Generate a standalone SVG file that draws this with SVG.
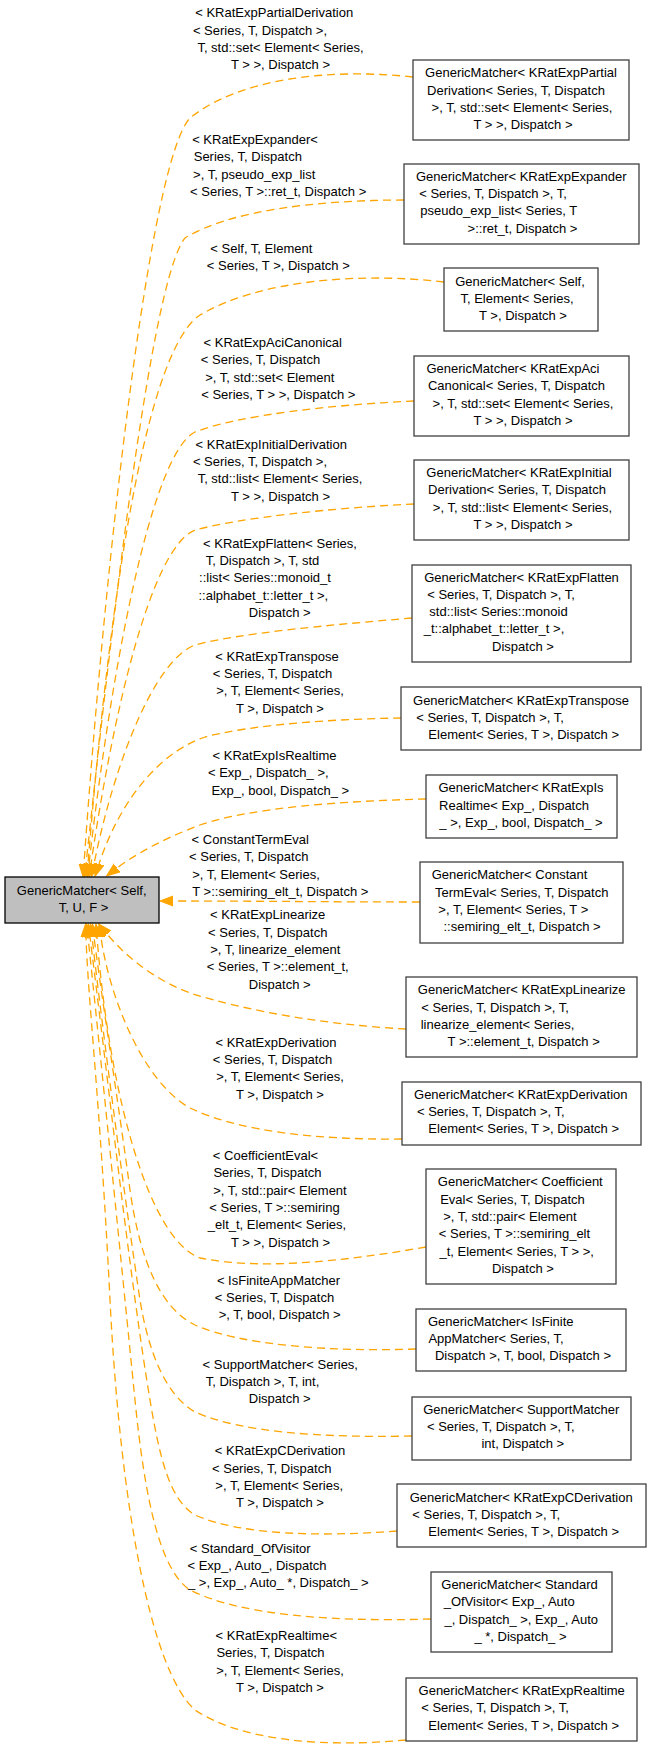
<svg xmlns="http://www.w3.org/2000/svg" width="651" height="1751" viewBox="0 0 651 1751">
<style>
text{font-family:"Liberation Sans",Arial,sans-serif;font-size:13px;text-anchor:middle;fill:#000}
.node rect{fill:#fff;stroke:#404040;stroke-width:1.3}
#main rect{fill:#bfbfbf;stroke:#000}
.edge path{fill:none;stroke:#ffa500;stroke-width:1.3;stroke-dasharray:8,5;marker-end:url(#arr)}
</style>
<defs>
<marker id="arr" viewBox="0 -6 14 12" refX="0" refY="0" markerWidth="14" markerHeight="12" markerUnits="userSpaceOnUse" orient="auto"><path d="M0,-5 L13,0 L0,5 Z" fill="#ffa500" stroke="#ffa500" stroke-width="1" stroke-dasharray="none"/></marker>
</defs>
<rect width="651" height="1751" fill="#fff"/>
<g id="connectors">
<g class="edge" id="e1"><path d="M413,77 C330,68 240,78 190,118 C150,160 105,560 84,864"/>
<text x="274.2" y="17.3">&lt; KRatExpPartialDerivation</text><text x="260" y="34.6">&lt; Series, T, Dispatch &gt;,</text><text x="280.5" y="51.9">T, std::set&lt; Element&lt; Series,</text><text x="280.5" y="69.2">T &gt; &gt;, Dispatch &gt;</text></g>
<g class="edge" id="e2"><path d="M404,200 C320,200 230,210 185,238 C150,280 108,660 86,864"/>
<text x="255" y="144">&lt; KRatExpExpander&lt;</text><text x="247.8" y="161.3">Series, T, Dispatch</text><text x="254.2" y="178.6">&gt;, T, pseudo_exp_list</text><text x="278.2" y="195.9">&lt; Series, T &gt;::ret_t, Dispatch &gt;</text></g>
<g class="edge" id="e3"><path d="M444,282 C360,272 260,280 200,315 C140,355 105,650 88,864"/>
<text x="261.3" y="252.7">&lt; Self, T, Element</text><text x="278.3" y="270">&lt; Series, T &gt;, Dispatch &gt;</text></g>
<g class="edge" id="e4"><path d="M414,401 C330,405 240,415 195,432 C150,455 110,680 89,864"/>
<text x="272.8" y="347">&lt; KRatExpAciCanonical</text><text x="260.5" y="364.3">&lt; Series, T, Dispatch</text><text x="269.8" y="381.6">&gt;, T, std::set&lt; Element</text><text x="278.3" y="398.9">&lt; Series, T &gt; &gt;, Dispatch &gt;</text></g>
<g class="edge" id="e5"><path d="M414,504 C330,508 240,518 195,530 C150,548 112,720 91,864"/>
<text x="271.3" y="448.7">&lt; KRatExpInitialDerivation</text><text x="260" y="466">&lt; Series, T, Dispatch &gt;,</text><text x="280" y="483.3">T, std::list&lt; Element&lt; Series,</text><text x="280.5" y="500.6">T &gt; &gt;, Dispatch &gt;</text></g>
<g class="edge" id="e6"><path d="M412,618 C330,625 240,633 195,645 C155,660 115,760 94,864"/>
<text x="280" y="547.7">&lt; KRatExpFlatten&lt; Series,</text><text x="262.5" y="565">T, Dispatch &gt;, T, std</text><text x="265" y="582.3">::list&lt; Series::monoid_t</text><text x="263.3" y="599.6">::alphabet_t::letter_t &gt;,</text><text x="279.7" y="616.9">Dispatch &gt;</text></g>
<g class="edge" id="e7"><path d="M401,718 C330,719 250,725 205,737 C160,752 120,800 99,864"/>
<text x="277" y="660.7">&lt; KRatExpTranspose</text><text x="272.5" y="678">&lt; Series, T, Dispatch</text><text x="280" y="695.3">&gt;, T, Element&lt; Series,</text><text x="280" y="712.6">T &gt;, Dispatch &gt;</text></g>
<g class="edge" id="e8"><path d="M426,799 C340,801 250,808 200,825 C160,840 133,856 117,868"/>
<text x="274.5" y="760">&lt; KRatExpIsRealtime</text><text x="268.3" y="777.3">&lt; Exp_, Dispatch_ &gt;,</text><text x="280.3" y="794.6">Exp_, bool, Dispatch_ &gt;</text></g>
<g class="edge" id="e9"><path d="M420,902 C330,902 260,901 173,901"/>
<text x="250.3" y="844">&lt; ConstantTermEval</text><text x="248.7" y="861.3">&lt; Series, T, Dispatch</text><text x="256" y="878.6">&gt;, T, Element&lt; Series,</text><text x="280.3" y="895.9">T &gt;::semiring_elt_t, Dispatch &gt;</text></g>
<g class="edge" id="e10"><path d="M406,1029 C330,1025 250,1012 190,993 C150,978 122,952 107,934"/>
<text x="267.7" y="919.3">&lt; KRatExpLinearize</text><text x="267.7" y="936.6">&lt; Series, T, Dispatch</text><text x="275.3" y="953.9">&gt;, T, linearize_element</text><text x="277.8" y="971.2">&lt; Series, T &gt;::element_t,</text><text x="279.7" y="988.5">Dispatch &gt;</text></g>
<g class="edge" id="e11"><path d="M402,1139 C320,1140 240,1132 190,1108 C140,1080 108,990 101,937"/>
<text x="276" y="1046.7">&lt; KRatExpDerivation</text><text x="272.5" y="1064">&lt; Series, T, Dispatch</text><text x="280" y="1081.3">&gt;, T, Element&lt; Series,</text><text x="280" y="1098.6">T &gt;, Dispatch &gt;</text></g>
<g class="edge" id="e12"><path d="M426,1247 C340,1262 260,1270 200,1258 C150,1240 110,1100 97,937"/>
<text x="265.5" y="1160">&lt; CoefficientEval&lt;</text><text x="267.5" y="1177.3">Series, T, Dispatch</text><text x="280" y="1194.6">&gt;, T, std::pair&lt; Element</text><text x="274.5" y="1211.9">&lt; Series, T &gt;::semiring</text><text x="277" y="1229.2">_elt_t, Element&lt; Series,</text><text x="280.5" y="1246.5">T &gt; &gt;, Dispatch &gt;</text></g>
<g class="edge" id="e13"><path d="M416,1349 C330,1352 240,1345 195,1325 C160,1308 140,1260 130,1190 C118,1100 102,1000 94,937"/>
<text x="278.5" y="1284.7">&lt; IsFiniteAppMatcher</text><text x="274.5" y="1302">&lt; Series, T, Dispatch</text><text x="279.7" y="1319.3">&gt;, T, bool, Dispatch &gt;</text></g>
<g class="edge" id="e14"><path d="M412,1436 C320,1438 240,1432 195,1412 C165,1395 148,1350 140,1300 C125,1200 105,1050 92,937"/>
<text x="280.3" y="1368.7">&lt; SupportMatcher&lt; Series,</text><text x="262.5" y="1386">T, Dispatch &gt;, T, int,</text><text x="279.7" y="1403.3">Dispatch &gt;</text></g>
<g class="edge" id="e15"><path d="M397,1531 C320,1537 240,1535 195,1515 C170,1500 160,1460 150,1400 C130,1280 108,1080 90,937"/>
<text x="280" y="1455.3">&lt; KRatExpCDerivation</text><text x="271.7" y="1472.6">&lt; Series, T, Dispatch</text><text x="279.2" y="1489.9">&gt;, T, Element&lt; Series,</text><text x="280" y="1507.2">T &gt;, Dispatch &gt;</text></g>
<g class="edge" id="e16"><path d="M431,1619 C330,1622 240,1615 190,1590 C160,1570 145,1500 135,1400 C120,1250 100,1050 88,937"/>
<text x="250.2" y="1552.7">&lt; Standard_OfVisitor</text><text x="257" y="1570">&lt; Exp_, Auto_, Dispatch</text><text x="278.3" y="1587.3">_ &gt;, Exp_, Auto_ *, Dispatch_ &gt;</text></g>
<g class="edge" id="e17"><path d="M406,1740 C320,1748 240,1740 195,1710 C150,1670 120,1500 110,1300 C100,1100 88,1000 86,937"/>
<text x="276.3" y="1640">&lt; KRatExpRealtime&lt;</text><text x="270.5" y="1657.3">Series, T, Dispatch</text><text x="280" y="1674.6">&gt;, T, Element&lt; Series,</text><text x="280" y="1691.9">T &gt;, Dispatch &gt;</text></g>
</g>
<g class="node" id="main"><rect x="5" y="877" width="154" height="46"/><text x="81.7" y="895">GenericMatcher&lt; Self,</text><text x="83.6" y="912.3">T, U, F &gt;</text></g>
<g class="node" id="n1"><rect x="413" y="60" width="216" height="80"/><text x="521" y="77.3">GenericMatcher&lt; KRatExpPartial</text><text x="516" y="94.6">Derivation&lt; Series, T, Dispatch</text><text x="522" y="111.9">&gt;, T, std::set&lt; Element&lt; Series,</text><text x="523" y="129.2">T &gt; &gt;, Dispatch &gt;</text></g>
<g class="node" id="n2"><rect x="404" y="164" width="235" height="80"/><text x="521.3" y="180.7">GenericMatcher&lt; KRatExpExpander</text><text x="493" y="198">&lt; Series, T, Dispatch &gt;, T,</text><text x="498.8" y="215.3">pseudo_exp_list&lt; Series, T</text><text x="522.5" y="232.6">&gt;::ret_t, Dispatch &gt;</text></g>
<g class="node" id="n3"><rect x="444" y="268" width="154" height="63"/><text x="520" y="285.7">GenericMatcher&lt; Self,</text><text x="517" y="303">T, Element&lt; Series,</text><text x="523" y="320.3">T &gt;, Dispatch &gt;</text></g>
<g class="node" id="n4"><rect x="414" y="356" width="215" height="80"/><text x="513" y="373">GenericMatcher&lt; KRatExpAci</text><text x="516.5" y="390.3">Canonical&lt; Series, T, Dispatch</text><text x="523" y="407.6">&gt;, T, std::set&lt; Element&lt; Series,</text><text x="523" y="424.9">T &gt; &gt;, Dispatch &gt;</text></g>
<g class="node" id="n5"><rect x="414" y="460" width="215" height="80"/><text x="519" y="477">GenericMatcher&lt; KRatExpInitial</text><text x="517" y="494.3">Derivation&lt; Series, T, Dispatch</text><text x="522.5" y="511.6">&gt;, T, std::list&lt; Element&lt; Series,</text><text x="523" y="528.9">T &gt; &gt;, Dispatch &gt;</text></g>
<g class="node" id="n6"><rect x="412" y="565" width="219" height="97"/><text x="521.5" y="581.5">GenericMatcher&lt; KRatExpFlatten</text><text x="501" y="598.8">&lt; Series, T, Dispatch &gt;, T,</text><text x="498.5" y="616.1">std::list&lt; Series::monoid</text><text x="494" y="633.4">_t::alphabet_t::letter_t &gt;,</text><text x="523" y="650.7">Dispatch &gt;</text></g>
<g class="node" id="n7"><rect x="401" y="687" width="240" height="63"/><text x="521" y="704.7">GenericMatcher&lt; KRatExpTranspose</text><text x="490" y="722">&lt; Series, T, Dispatch &gt;, T,</text><text x="523.7" y="739.3">Element&lt; Series, T &gt;, Dispatch &gt;</text></g>
<g class="node" id="n8"><rect x="426" y="775" width="191" height="63"/><text x="521" y="792.3">GenericMatcher&lt; KRatExpIs</text><text x="514" y="809.6">Realtime&lt; Exp_, Dispatch</text><text x="521" y="826.9">_ &gt;, Exp_, bool, Dispatch_ &gt;</text></g>
<g class="node" id="n9"><rect x="420" y="862" width="203" height="81"/><text x="509.5" y="879.3">GenericMatcher&lt; Constant</text><text x="521.7" y="896.6">TermEval&lt; Series, T, Dispatch</text><text x="513.3" y="913.9">&gt;, T, Element&lt; Series, T &gt;</text><text x="522" y="931.2">::semiring_elt_t, Dispatch &gt;</text></g>
<g class="node" id="n10"><rect x="406" y="977" width="231" height="80"/><text x="521.7" y="994.3">GenericMatcher&lt; KRatExpLinearize</text><text x="495" y="1011.6">&lt; Series, T, Dispatch &gt;, T,</text><text x="497.5" y="1028.9">linearize_element&lt; Series,</text><text x="523.7" y="1046.2">T &gt;::element_t, Dispatch &gt;</text></g>
<g class="node" id="n11"><rect x="402" y="1082" width="239" height="63"/><text x="520.8" y="1098.7">GenericMatcher&lt; KRatExpDerivation</text><text x="490.8" y="1116">&lt; Series, T, Dispatch &gt;, T,</text><text x="523.7" y="1133.3">Element&lt; Series, T &gt;, Dispatch &gt;</text></g>
<g class="node" id="n12"><rect x="426" y="1169" width="190" height="115"/><text x="520.3" y="1186.3">GenericMatcher&lt; Coefficient</text><text x="512.5" y="1203.6">Eval&lt; Series, T, Dispatch</text><text x="510" y="1220.9">&gt;, T, std::pair&lt; Element</text><text x="514.5" y="1238.2">&lt; Series, T &gt;::semiring_elt</text><text x="516.7" y="1255.5">_t, Element&lt; Series, T &gt; &gt;,</text><text x="523" y="1272.8">Dispatch &gt;</text></g>
<g class="node" id="n13"><rect x="416" y="1309" width="210" height="62"/><text x="500.7" y="1325.7">GenericMatcher&lt; IsFinite</text><text x="496" y="1343">AppMatcher&lt; Series, T,</text><text x="523" y="1360.3">Dispatch &gt;, T, bool, Dispatch &gt;</text></g>
<g class="node" id="n14"><rect x="412" y="1397" width="219" height="63"/><text x="521.3" y="1413.7">GenericMatcher&lt; SupportMatcher</text><text x="500.8" y="1431">&lt; Series, T, Dispatch &gt;, T,</text><text x="522.8" y="1448.3">int, Dispatch &gt;</text></g>
<g class="node" id="n15"><rect x="397" y="1484" width="249" height="63"/><text x="521.2" y="1501.7">GenericMatcher&lt; KRatExpCDerivation</text><text x="486.2" y="1519">&lt; Series, T, Dispatch &gt;, T,</text><text x="523.7" y="1536.3">Element&lt; Series, T &gt;, Dispatch &gt;</text></g>
<g class="node" id="n16"><rect x="431" y="1572" width="181" height="80"/><text x="519.5" y="1589">GenericMatcher&lt; Standard</text><text x="509.2" y="1606.3">_OfVisitor&lt; Exp_, Auto</text><text x="521.2" y="1623.6">_, Dispatch_ &gt;, Exp_, Auto</text><text x="520.5" y="1640.9">_ *, Dispatch_ &gt;</text></g>
<g class="node" id="n17"><rect x="406" y="1678" width="231" height="63"/><text x="521.7" y="1695">GenericMatcher&lt; KRatExpRealtime</text><text x="495" y="1712.3">&lt; Series, T, Dispatch &gt;, T,</text><text x="523.7" y="1729.6">Element&lt; Series, T &gt;, Dispatch &gt;</text></g>
</svg>
